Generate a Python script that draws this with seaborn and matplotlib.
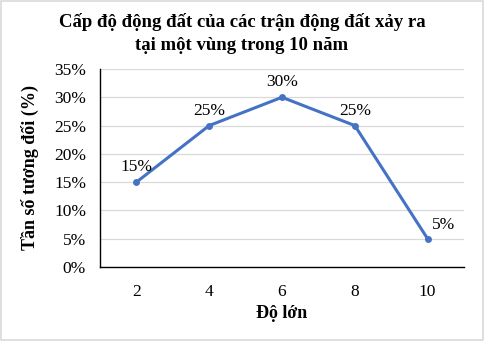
import matplotlib
matplotlib.use("Agg")
import matplotlib.pyplot as plt
import seaborn as sns
import pandas as pd
from matplotlib.patches import Rectangle

categories = ["2", "4", "6", "8", "10"]
values = [15, 25, 30, 25, 5]
yticks = [0, 5, 10, 15, 20, 25, 30, 35]

sns.set_style("white")
plt.rcParams['font.family'] = ['Liberation Serif', 'DejaVu Serif']
plt.rcParams.update({"text.color": "black", "axes.labelcolor": "black",
                     "xtick.color": "black", "ytick.color": "black"})

df = pd.DataFrame({"cat": categories, "val": values})

fig = plt.figure(figsize=(4.84, 3.41), dpi=100)
ax = fig.add_axes([100/484, 1-267/341, 364/484, 198/341])
sns.lineplot(data=df, x="cat", y="val", ax=ax, color="#4472C4", linewidth=2.2,
             marker="o", markersize=5, markeredgewidth=0, sort=False)
for i, v in enumerate(values):
    if i == len(values) - 1:
        ax.annotate(f"{v}%", (i, v), xytext=(3, 4), textcoords="offset points",
                    ha="left", va="bottom", fontsize=12.5, color="black")
    else:
        ax.annotate(f"{v}%", (i, v), xytext=(0, 5), textcoords="offset points",
                    ha="center", va="bottom", fontsize=12.5, color="black")
ax.set_xlim(-0.5, len(categories) - 0.5)
ax.set_ylim(0, 35)
ax.set_yticks(yticks)
ax.set_yticklabels([f"{t}%" for t in yticks], fontsize=12.5)
ax.tick_params(axis="x", labelsize=12.5, pad=12, length=0)
ax.tick_params(axis="y", length=0, pad=10)
ax.grid(axis="y", color="#D9D9D9", linewidth=0.9)
ax.set_axisbelow(True)
for s in ["top", "right"]:
    ax.spines[s].set_visible(False)
for s in ["left", "bottom"]:
    ax.spines[s].set_color("black")
    ax.spines[s].set_linewidth(1.0)
ax.set_xlabel("Độ lớn", fontsize=13, fontweight="bold", labelpad=4)
ax.set_ylabel("Tần số tương đối (%)", fontsize=13, fontweight="bold", labelpad=11)
fig.suptitle("Cấp độ động đất của các trận động đất xảy ra\ntại một vùng trong 10 năm",
             fontsize=13.5, fontweight="bold", y=1-13/341, va="top", linespacing=1.45,
             color="black")
fig.patches.append(Rectangle((0.002, 0.003), 0.995, 0.994, transform=fig.transFigure,
                             fill=False, edgecolor="#D9D9D9", linewidth=1.2))
fig.savefig("out.png", dpi=100)
